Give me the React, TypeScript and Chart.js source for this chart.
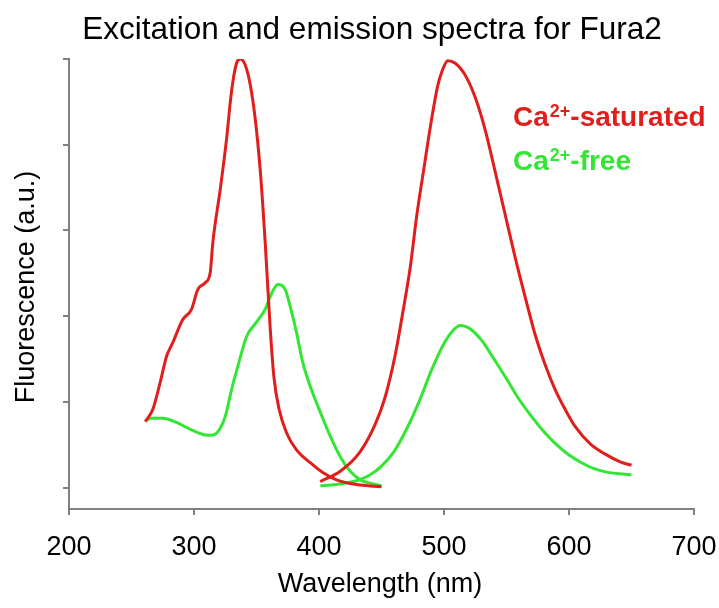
import React, { useEffect, useRef } from "react";
import { Chart, registerables } from "chart.js";

Chart.register(...registerables);

// Wavelength (nm) and normalized fluorescence values
const redExcitationNm = [261, 267, 273, 278, 283, 291, 298, 303, 309, 313, 315, 321, 326, 330, 334, 337, 341, 345, 349, 353, 357, 361, 364, 368, 374, 382, 393, 403, 414, 430, 450];
const redExcitationVal = [0.77, 0.91, 1.23, 1.53, 1.69, 1.96, 2.08, 2.31, 2.39, 2.51, 2.85, 3.48, 4.06, 4.62, 4.95, 5.0, 4.93, 4.7, 4.3, 3.7, 2.85, 1.85, 1.28, 0.92, 0.64, 0.44, 0.29, 0.175, 0.09, 0.035, 0.01];

const redEmissionNm = [401, 417, 433, 445, 453, 461, 467, 473, 478, 484, 490, 495, 499, 503, 509, 517, 525, 533, 541, 549, 557, 565, 573, 581, 589, 597, 605, 617, 629, 641, 650];
const redEmissionVal = [0.07, 0.19, 0.42, 0.74, 1.06, 1.55, 2.04, 2.57, 3.15, 3.73, 4.29, 4.69, 4.88, 4.98, 4.95, 4.81, 4.55, 4.17, 3.68, 3.18, 2.68, 2.22, 1.78, 1.43, 1.14, 0.91, 0.71, 0.51, 0.39, 0.3, 0.26];

const greenExcitationNm = [261, 265, 275, 286, 297, 307, 314, 319, 325, 330, 335, 342, 350, 357, 361, 367, 373, 377, 382, 387, 394, 401, 409, 417, 425, 433, 441, 450];
const greenExcitationVal = [0.77, 0.81, 0.81, 0.76, 0.68, 0.62, 0.61, 0.65, 0.83, 1.14, 1.41, 1.76, 1.93, 2.08, 2.23, 2.37, 2.31, 2.11, 1.81, 1.46, 1.14, 0.88, 0.6, 0.36, 0.19, 0.09, 0.05, 0.02];

const greenEmissionNm = [401, 410, 420, 430, 440, 450, 460, 470, 480, 490, 500, 507, 513, 520, 530, 540, 550, 560, 570, 580, 590, 600, 610, 620, 630, 640, 650];
const greenEmissionVal = [0.02, 0.03, 0.05, 0.08, 0.14, 0.25, 0.42, 0.68, 1.0, 1.37, 1.68, 1.83, 1.89, 1.86, 1.72, 1.5, 1.27, 1.03, 0.83, 0.65, 0.5, 0.38, 0.29, 0.22, 0.18, 0.16, 0.15];

const xTickValues = [200, 300, 400, 500, 600, 700];
const yTickValues = [0, 1, 2, 3, 4, 5];

const titleText = "Excitation and emission spectra for Fura2";
const xTitle = "Wavelength (nm)";
const yTitle = "Fluorescence (a.u.)";
const legendItems = [
  { pre: "Ca", sup: "2+", post: "-saturated", color: "#e01f1c" },
  { pre: "Ca", sup: "2+", post: "-free", color: "#33e633" },
];

const RED = "#e01f1c";
const GREEN = "#33e633";
const FONT = "'Liberation Sans', Arial, sans-serif";

const toPoints = (xs: number[], ys: number[]) => xs.map((x, i) => ({ x, y: ys[i] }));

const textPlugin = {
  id: "textPlugin",
  afterDraw(chart: any) {
    const ctx = chart.ctx;
    const xs = chart.scales.x;
    ctx.save();
    ctx.fillStyle = "#000";
    ctx.textBaseline = "middle";
    ctx.textAlign = "center";
    ctx.font = `31.5px ${FONT}`;
    ctx.fillText(titleText, 372, 30);
    ctx.font = `27px ${FONT}`;
    xTickValues.forEach((v) => {
      ctx.fillText(String(v), xs.getPixelForValue(v), 548);
    });
    ctx.fillText(xTitle, 380, 585);
    ctx.save();
    ctx.translate(27, 287);
    ctx.rotate(-Math.PI / 2);
    ctx.fillText(yTitle, 0, 0);
    ctx.restore();

    ctx.textAlign = "left";
    ctx.textBaseline = "alphabetic";
    const baselines = [126, 170];
    legendItems.forEach((it, i) => {
      let x = 513;
      const y = baselines[i];
      ctx.fillStyle = it.color;
      ctx.font = `bold 28px ${FONT}`;
      ctx.fillText(it.pre, x, y);
      x += ctx.measureText(it.pre).width;
      ctx.font = `bold 18px ${FONT}`;
      ctx.fillText(it.sup, x + 1, y - 9);
      x += ctx.measureText(it.sup).width + 1;
      ctx.font = `bold 28px ${FONT}`;
      ctx.fillText(it.post, x, y);
    });
    ctx.restore();
  },
};

export default function App() {
  const canvasRef = useRef<HTMLCanvasElement | null>(null);

  useEffect(() => {
    document.body.style.margin = "0";
    const canvas = canvasRef.current;
    if (!canvas) return;
    const lineDs = (data: any, color: string) => ({
      data,
      borderColor: color,
      backgroundColor: color,
      borderWidth: 3,
      pointRadius: 0,
      fill: false,
      cubicInterpolationMode: "monotone" as const,
    });
    const chart = new Chart(canvas, {
      type: "line",
      data: {
        datasets: [
          lineDs(toPoints(redExcitationNm, redExcitationVal), RED),
          lineDs(toPoints(redEmissionNm, redEmissionVal), RED),
          lineDs(toPoints(greenExcitationNm, greenExcitationVal), GREEN),
          lineDs(toPoints(greenEmissionNm, greenEmissionVal), GREEN),
        ],
      },
      options: {
        animation: false,
        responsive: false,
        layout: { padding: { left: 0, right: 25, top: 59, bottom: 0 } },
        plugins: { legend: { display: false }, tooltip: { enabled: false }, title: { display: false } },
        scales: {
          x: {
            type: "linear",
            min: 200,
            max: 700,
            afterBuildTicks: (scale: any) => {
              scale.ticks = xTickValues.map((v) => ({ value: v }));
            },
            ticks: { display: false, padding: 0 },
            grid: { drawOnChartArea: false, drawTicks: true, tickLength: 6, color: "#808080", lineWidth: 2 },
            border: { display: true, color: "#808080", width: 2 },
            afterFit: (scale: any) => {
              scale.height = 99;
            },
          },
          y: {
            type: "linear",
            min: -0.25,
            max: 5,
            afterBuildTicks: (scale: any) => {
              scale.ticks = yTickValues.map((v) => ({ value: v }));
            },
            ticks: { display: false },
            grid: { drawOnChartArea: false, drawTicks: true, tickLength: 6, color: "#808080", lineWidth: 2 },
            border: { display: true, color: "#808080", width: 2 },
            afterFit: (scale: any) => {
              scale.width = 69;
            },
          },
        },
      },
      plugins: [textPlugin],
    });
    return () => chart.destroy();
  }, []);

  return (
    <div style={{ width: 719, height: 608, background: "#fff" }}>
      <canvas ref={canvasRef} width={719} height={608} style={{ width: 719, height: 608, display: "block" }} />
    </div>
  );
}
